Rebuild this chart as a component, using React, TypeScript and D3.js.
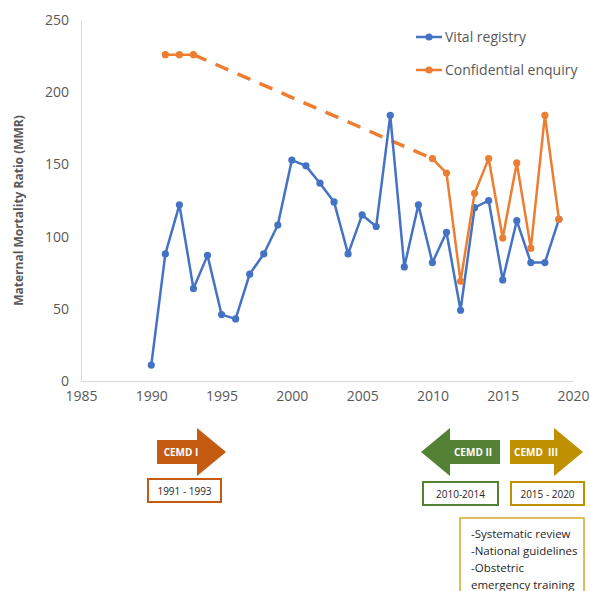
import { useEffect, useRef } from "react";
import * as d3 from "d3";

// years on x axis
const years = d3.range(1990, 2020);

// Vital registry MMR, 1990-2019
const vitalRegistry = [
  11, 88, 122, 64, 87, 46, 43, 74, 88, 108, 153, 149, 137, 124, 88, 115, 107, 184, 79, 122,
  82, 103, 49, 120, 125, 70, 111, 82, 82, 112,
];

// Confidential enquiry MMR (null = no enquiry that year)
const confidentialEnquiry: (number | null)[] = [
  null, 226, 226, 226, null, null, null, null, null, null, null, null, null, null, null, null,
  null, null, null, null, 154, 144, 69, 130, 154, 99, 151, 92, 184, 112,
];

const xTicks = [1985, 1990, 1995, 2000, 2005, 2010, 2015, 2020];
const yTicks = [0, 50, 100, 150, 200, 250];

const legendItems = ["Vital registry", "Confidential enquiry"];

const BLUE = "#4472c4";
const ORANGE = "#ed7d31";
const FONT = "'Open Sans', sans-serif";

const App = () => {
  const svgRef = useRef<SVGSVGElement>(null);

  useEffect(() => {
    if (!svgRef.current) return;
    const svg = d3.select(svgRef.current);
    svg.selectAll("*").remove();

    const x = d3.scaleLinear().domain([1985, 2020]).range([81, 573]);
    const y = d3.scaleLinear().domain([0, 250]).range([381, 20]);

    // axes
    const yAxis = svg
      .append("g")
      .attr("transform", `translate(${x(1985)},0)`)
      .call(d3.axisLeft(y).tickValues(yTicks).tickSize(0).tickPadding(12));
    yAxis.select(".domain").attr("stroke", "#d9d9d9");
    yAxis.selectAll("text").attr("fill", "#595959").style("font", `14px ${FONT}`);

    const xAxis = svg
      .append("g")
      .attr("transform", `translate(0,${y(0)})`)
      .call(
        d3
          .axisBottom(x)
          .tickValues(xTicks)
          .tickFormat(d3.format("d"))
          .tickSize(0)
          .tickPadding(10)
      );
    xAxis.select(".domain").attr("stroke", "#d9d9d9");
    xAxis.selectAll("text").attr("fill", "#595959").style("font", `14px ${FONT}`);

    svg
      .append("text")
      .attr("transform", `translate(23,${(y(0) + y(250)) / 2 + 10}) rotate(-90)`)
      .attr("text-anchor", "middle")
      .attr("fill", "#595959")
      .style("font", `bold 12px ${FONT}`)
      .text("Maternal Mortality Ratio (MMR)");

    // confidential enquiry
    const ceData = years.map((yr, i) => ({ yr, v: confidentialEnquiry[i] }));
    const ceDefined = ceData.filter((d) => d.v !== null) as { yr: number; v: number }[];

    // dashed connection over the gap
    const gapStart = ceDefined.find((d) => d.yr === 1993)!;
    const gapEnd = ceDefined.find((d) => d.yr === 2010)!;
    svg
      .append("line")
      .attr("x1", x(gapStart.yr))
      .attr("y1", y(gapStart.v))
      .attr("x2", x(gapEnd.yr))
      .attr("y2", y(gapEnd.v))
      .attr("stroke", ORANGE)
      .attr("stroke-width", 3.5)
      .attr("stroke-dasharray", "14 10");

    const lineGen = d3
      .line<{ yr: number; v: number | null }>()
      .defined((d) => d.v !== null)
      .x((d) => x(d.yr))
      .y((d) => y(d.v as number));

    // vital registry
    const vrData = years.map((yr, i) => ({ yr, v: vitalRegistry[i] }));
    svg
      .append("path")
      .datum(vrData)
      .attr("fill", "none")
      .attr("stroke", BLUE)
      .attr("stroke-width", 2.5)
      .attr("stroke-linejoin", "round")
      .attr("d", lineGen);
    svg
      .append("g")
      .selectAll("circle")
      .data(vrData)
      .join("circle")
      .attr("cx", (d) => x(d.yr))
      .attr("cy", (d) => y(d.v))
      .attr("r", 3.6)
      .attr("fill", BLUE);

    svg
      .append("path")
      .datum(ceData)
      .attr("fill", "none")
      .attr("stroke", ORANGE)
      .attr("stroke-width", 2.5)
      .attr("stroke-linejoin", "round")
      .attr("d", lineGen);
    svg
      .append("g")
      .selectAll("circle")
      .data(ceDefined)
      .join("circle")
      .attr("cx", (d) => x(d.yr))
      .attr("cy", (d) => y(d.v))
      .attr("r", 3.6)
      .attr("fill", ORANGE);

    // legend
    const legend = svg
      .append("g")
      .selectAll("g")
      .data(legendItems)
      .join("g")
      .attr("transform", (_, i) => `translate(416,${37 + i * 33})`);
    legend
      .append("line")
      .attr("x1", 0)
      .attr("x2", 26)
      .attr("stroke", (_, i) => (i === 0 ? BLUE : ORANGE))
      .attr("stroke-width", 2.5);
    legend
      .append("circle")
      .attr("cx", 13)
      .attr("r", 3.6)
      .attr("fill", (_, i) => (i === 0 ? BLUE : ORANGE));
    legend
      .append("text")
      .attr("x", 29)
      .attr("dy", "0.35em")
      .attr("fill", "#595959")
      .style("font", `14px ${FONT}`)
      .text((d) => d);

    // CEMD arrows and period boxes
    const arrows = [
      { label: "CEMD I", color: "#c55a11", dir: 1, x0: 157, x1: 226, period: "1991 - 1993", bx: 148, bw: 73, by: 479 },
      { label: "CEMD II", color: "#548235", dir: -1, x0: 421, x1: 500, period: "2010-2014", bx: 423, bw: 75, by: 482 },
      { label: "CEMD  III", color: "#bf9000", dir: 1, x0: 510, x1: 583, period: "2015 - 2020", bx: 511, bw: 73, by: 482 },
    ];
    const cy = 452;
    arrows.forEach((a) => {
      const head = 29;
      let pts: [number, number][];
      if (a.dir === 1) {
        const hx = a.x1 - head;
        pts = [
          [a.x0, cy - 12], [hx, cy - 12], [hx, cy - 24], [a.x1, cy],
          [hx, cy + 24], [hx, cy + 12], [a.x0, cy + 12],
        ];
      } else {
        const hx = a.x0 + head;
        pts = [
          [a.x1, cy - 12], [hx, cy - 12], [hx, cy - 24], [a.x0, cy],
          [hx, cy + 24], [hx, cy + 12], [a.x1, cy + 12],
        ];
      }
      svg
        .append("polygon")
        .attr("points", pts.map((p) => p.join(",")).join(" "))
        .attr("fill", a.color);
      const textMid = a.dir === 1 ? (a.x0 + a.x1 - head) / 2 + 4 : (a.x0 + head + a.x1) / 2 - 2;
      svg
        .append("text")
        .attr("x", textMid)
        .attr("y", cy)
        .attr("dy", "0.35em")
        .attr("text-anchor", "middle")
        .attr("fill", "#fff")
        .style("font", `bold 10px ${FONT}`)
        .style("white-space", "pre")
        .text(a.label);
      svg
        .append("rect")
        .attr("x", a.bx)
        .attr("y", a.by)
        .attr("width", a.bw)
        .attr("height", 23)
        .attr("fill", "#fff")
        .attr("stroke", a.color)
        .attr("stroke-width", 2);
      svg
        .append("text")
        .attr("x", a.bx + a.bw / 2)
        .attr("y", a.by + 12)
        .attr("dy", "0.35em")
        .attr("text-anchor", "middle")
        .attr("fill", "#262626")
        .style("font", `10px ${FONT}`)
        .text(a.period);
    });

    // interventions box
    const notes = ["-Systematic review", "-National guidelines", "-Obstetric", "emergency training"];
    svg
      .append("rect")
      .attr("x", 460)
      .attr("y", 518)
      .attr("width", 124)
      .attr("height", 90)
      .attr("fill", "#fff")
      .attr("stroke", "#d4a826")
      .attr("stroke-width", 1.5);
    svg
      .append("g")
      .selectAll("text")
      .data(notes)
      .join("text")
      .attr("x", 471)
      .attr("y", (_, i) => 534 + i * 17)
      .attr("dy", "0.35em")
      .attr("fill", "#262626")
      .style("font", `11.5px ${FONT}`)
      .text((d) => d);
  }, []);

  return (
    <svg
      ref={svgRef}
      width={590}
      height={591}
      style={{ position: "absolute", left: 0, top: 0, background: "#fff" }}
    />
  );
};

export default App;
